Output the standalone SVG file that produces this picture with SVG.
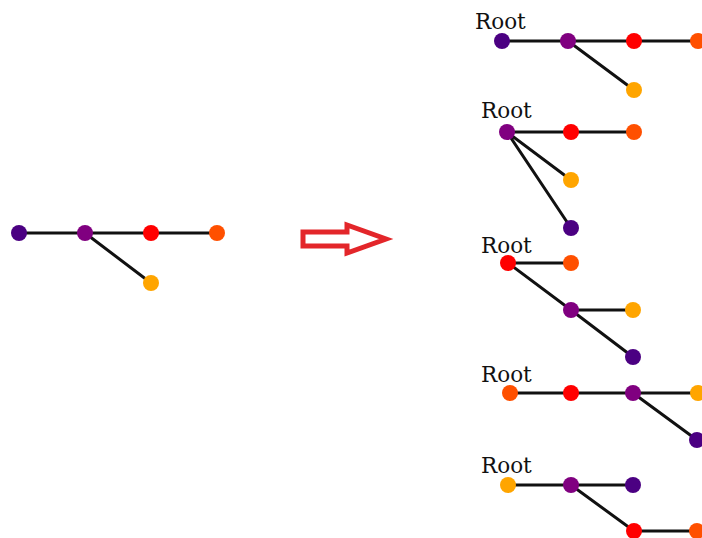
<svg xmlns="http://www.w3.org/2000/svg" width="702" height="538" viewBox="0 0 702 538">
<style>
.e{stroke:#111;stroke-width:3;fill:none}
.lbl{font-family:"DejaVu Serif",serif;font-size:21.5px;fill:#111}
.a{fill:#4b0082}.p{fill:#800080}.r{fill:#ff0000}.o{fill:#ff5000}.y{fill:#ffa500}
</style>
<rect width="702" height="538" fill="#fff"/>
<g id="connectors">
<path class="e" d="M19 233H217M85 233L151 283"/>
<path class="e" d="M502 41H702M568 41L634 90"/>
<path class="e" d="M507 132H634M507 132L571 180M507 132L571 228"/>
<path class="e" d="M508 263H571M508 263L571 310H633M571 310L633 357"/>
<path class="e" d="M510 393H702M633 393L697 440"/>
<path class="e" d="M508 485H633M571 485L634 531H702"/>
</g>
<g id="arrow"><polygon points="303,232 347,232 347,225 386,239 347,253 347,246 303,246" fill="#fff" stroke="#e3262a" stroke-width="5" stroke-linejoin="miter"/></g>
<g id="tree0">
<circle class="a" cx="19" cy="233" r="8"/><circle class="p" cx="85" cy="233" r="8"/><circle class="r" cx="151" cy="233" r="8"/><circle class="o" cx="217" cy="233" r="8"/><circle class="y" cx="151" cy="283" r="8"/>
</g>
<g id="tree1">
<text class="lbl" x="475" y="29">Root</text>
<circle class="a" cx="502" cy="41" r="8"/><circle class="p" cx="568" cy="41" r="8"/><circle class="r" cx="634" cy="41" r="8"/><circle class="o" cx="698" cy="41" r="8"/><circle class="y" cx="634" cy="90" r="8"/>
</g>
<g id="tree2">
<text class="lbl" x="481" y="118">Root</text>
<circle class="p" cx="507" cy="132" r="8"/><circle class="r" cx="571" cy="132" r="8"/><circle class="o" cx="634" cy="132" r="8"/><circle class="y" cx="571" cy="180" r="8"/><circle class="a" cx="571" cy="228" r="8"/>
</g>
<g id="tree3">
<text class="lbl" x="481" y="253">Root</text>
<circle class="r" cx="508" cy="263" r="8"/><circle class="o" cx="571" cy="263" r="8"/><circle class="p" cx="571" cy="310" r="8"/><circle class="y" cx="633" cy="310" r="8"/><circle class="a" cx="633" cy="357" r="8"/>
</g>
<g id="tree4">
<text class="lbl" x="481" y="382">Root</text>
<circle class="o" cx="510" cy="393" r="8"/><circle class="r" cx="571" cy="393" r="8"/><circle class="p" cx="633" cy="393" r="8"/><circle class="y" cx="698" cy="393" r="8"/><circle class="a" cx="697" cy="440" r="8"/>
</g>
<g id="tree5">
<text class="lbl" x="481" y="473">Root</text>
<circle class="y" cx="508" cy="485" r="8"/><circle class="p" cx="571" cy="485" r="8"/><circle class="a" cx="633" cy="485" r="8"/><circle class="r" cx="634" cy="531" r="8"/><circle class="o" cx="697" cy="531" r="8"/>
</g>
</svg>
